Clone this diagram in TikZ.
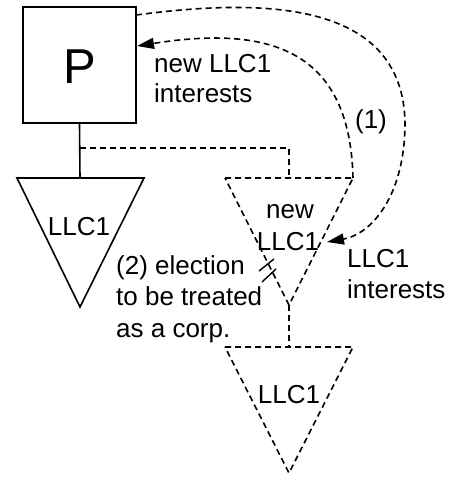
\documentclass[tikz,border=0pt]{standalone}
\usepackage{fontspec}
\setmainfont{Liberation Sans}
\usetikzlibrary{arrows.meta}
\begin{document}
\begin{tikzpicture}[x=1pt,y=-1pt,
  solidline/.style={line width=1.6pt},
  dashline/.style={line width=1.6pt, dash pattern=on 6pt off 4pt},
  tip/.style={-{Triangle[length=17pt,width=11pt]}},
  lbl/.style={inner sep=0pt, font=\fontsize{26}{31}\selectfont},
]
\useasboundingbox (0,0) rectangle (448,477);

% parent box
\node[draw, solidline, minimum width=113pt, minimum height=116pt, inner sep=0pt] (P) at (79.5,65) {};
\node[inner sep=0pt, font=\fontsize{49}{50}\selectfont, anchor=base] (Ptext) at (80,83) {P};

% corners of the three triangles
\coordinate (A1) at (17,178);  \coordinate (A2) at (144,178); \coordinate (A3) at (80,307);
\coordinate (B1) at (225,178); \coordinate (B2) at (353,178); \coordinate (B3) at (289,305);
\coordinate (C1) at (225,347); \coordinate (C2) at (353,347); \coordinate (C3) at (289,473);
\coordinate (Atop) at (80,178);
\coordinate (Btop) at (289,178);
\coordinate (Ctop) at (289,347);
\coordinate (J) at (80,148);
\coordinate (Pout) at (136,15);
\coordinate (Pin) at (137,46);
\coordinate (Bin) at (327,242);

% existing LLC1 (solid)
\draw[solidline] (A1) -- (A2) -- (A3) -- cycle;
\draw[solidline] (P.south) -- (Atop);

% new LLC1 and the lower LLC1 (dashed)
\draw[dashline] (J) -| (Btop);
\draw[dashline] (B1) -- (B2) -- (B3) -- cycle;
\draw[dashline] (B3) -- (Ctop);
\draw[dashline] (C1) -- (C2) -- (C3) -- cycle;

% transfers of interests
\draw[dashline, tip] (Pout) .. controls (250,0) and (403,-5) .. (405,123)
                             .. controls (405,195) and (372,234) .. (Bin);
\draw[dashline, tip] (B2) .. controls (350,50) and (270,25) .. (Pin);

% election cut marks
\draw[line width=1.4pt] (259,271) -- (274,259);
\draw[line width=1.4pt] (262,282) -- (276,269);

% labels
\node[lbl, anchor=base] (tA) at (79,235) {LLC1};
\node[lbl, anchor=base] (tB1) at (290,218) {new};
\node[lbl, anchor=base] (tB2) at (288,250) {LLC1};
\node[lbl, anchor=base] (tC) at (289,403) {LLC1};
\node[lbl, anchor=base west] (n1) at (154,72) {new LLC1};
\node[lbl, anchor=base west] (n2) at (154,102) {interests};
\node[lbl, anchor=base] (one) at (371,128) {(1)};
\node[lbl, anchor=base west] (r1) at (347,267) {LLC1};
\node[lbl, anchor=base west] (r2) at (347,298) {interests};
\node[lbl, anchor=base west] (e1) at (116,274) {(2) election};
\node[lbl, anchor=base west] (e2) at (116,305) {to be treated};
\node[lbl, anchor=base west] (e3) at (116,337) {as a corp.};
\end{tikzpicture}
\end{document}
